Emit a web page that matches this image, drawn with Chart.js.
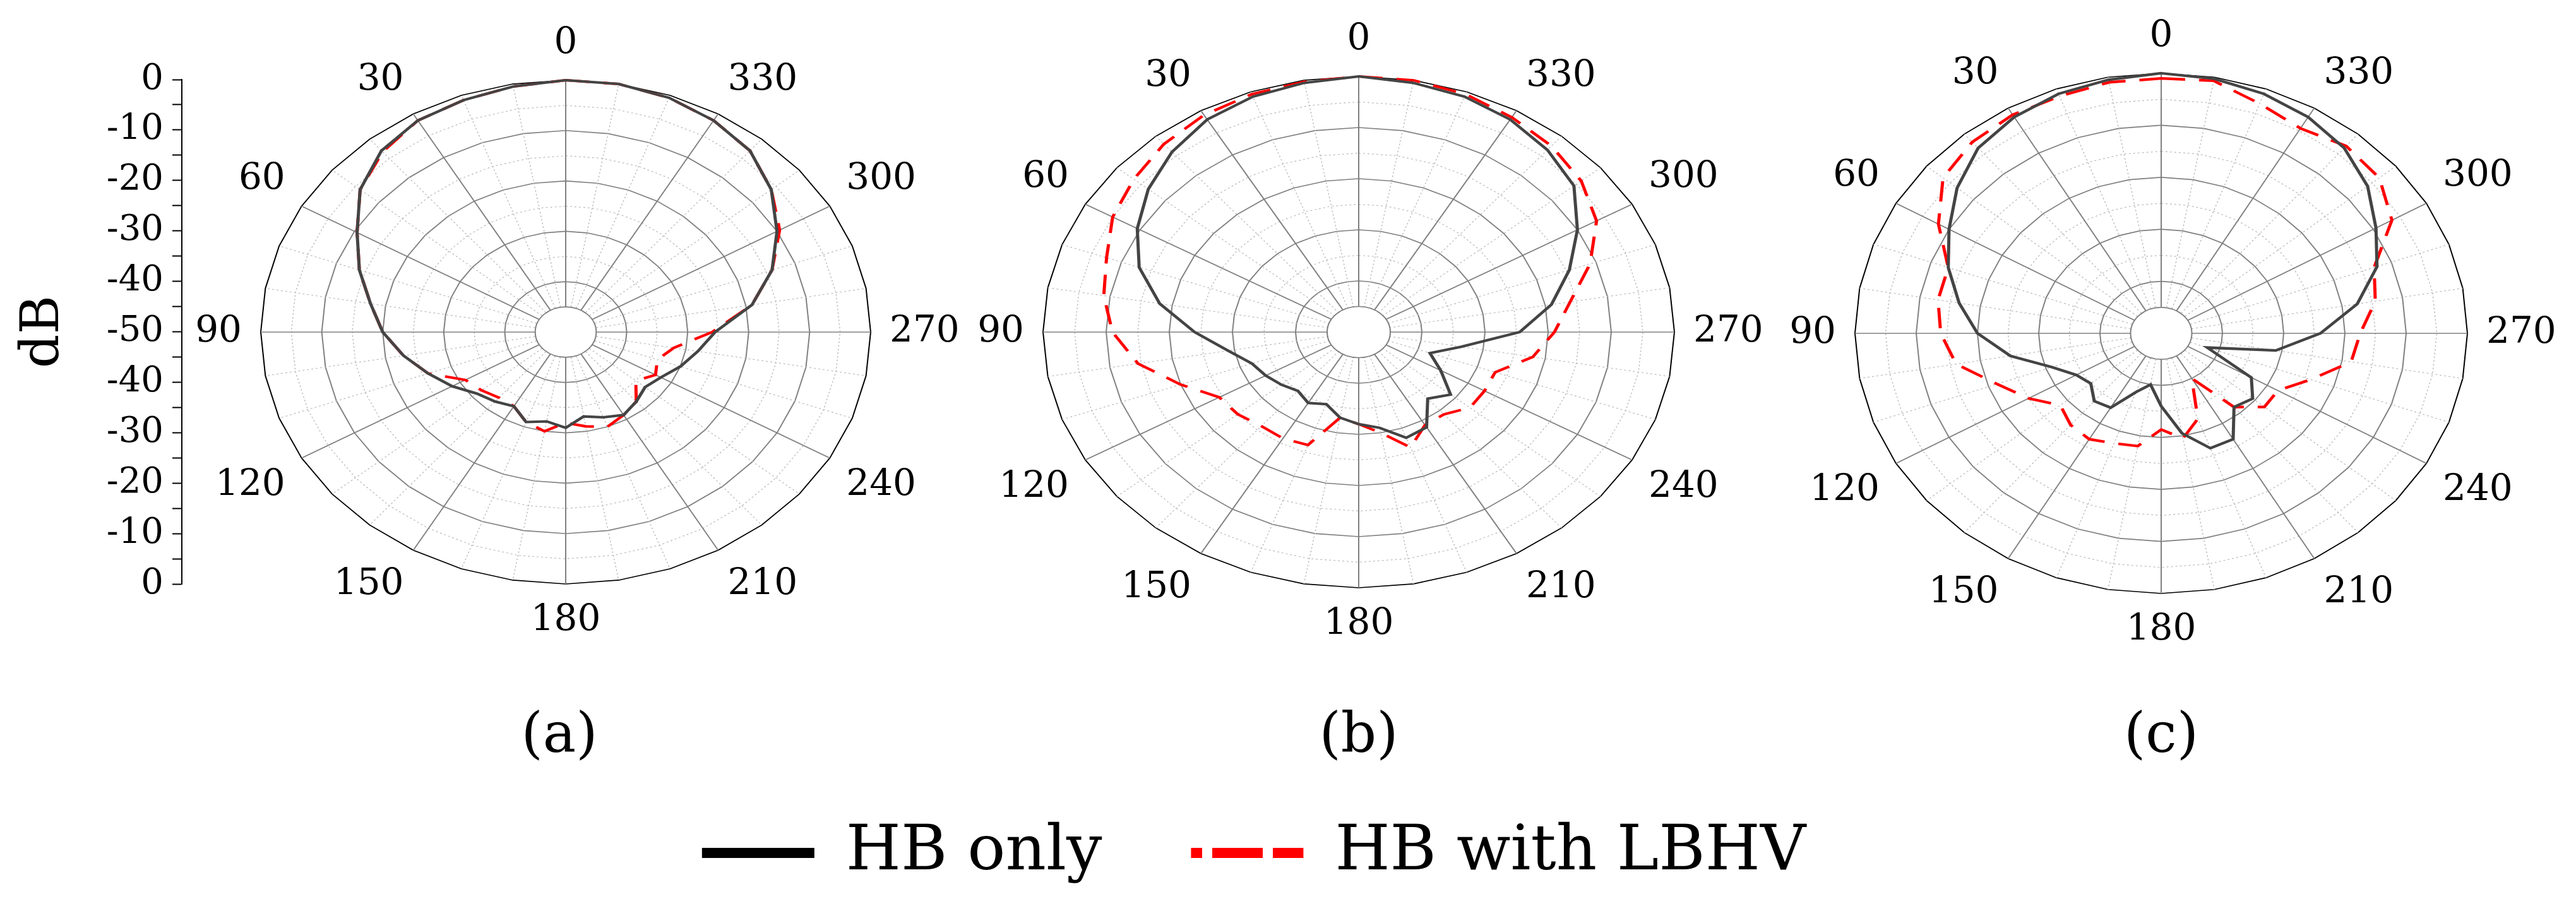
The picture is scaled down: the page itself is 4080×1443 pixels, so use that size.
<!DOCTYPE html>
<html><head><meta charset="utf-8">
<script src="https://cdn.jsdelivr.net/npm/chart.js@4"></script>
<style>
html,body{margin:0;padding:0;background:#fff;width:4080px;height:1443px;overflow:hidden;position:relative;font-family:"DejaVu Serif",serif;}
canvas{position:absolute;}
.cap{position:absolute;font-family:"DejaVu Serif",serif;font-size:88px;color:#000;transform:translate(-50%,-50%);white-space:nowrap;}
</style></head><body>
<canvas id="axis"></canvas>
<canvas id="pa"></canvas><canvas id="pb"></canvas><canvas id="pc"></canvas>
<canvas id="leg"></canvas>
<div class="cap" style="left:886px;top:1160px">(a)</div>
<div class="cap" style="left:2152px;top:1160px">(b)</div>
<div class="cap" style="left:3423px;top:1160px">(c)</div>
<script>
// angles 0..350 step 10 (counter-clockwise from top)
const ANGLES = Array.from({length:36},(_, i)=>i*10);
const ANGLE_TICK_LABELS = ['0','30','60','90','120','150','180','210','240','270','300','330'];
const DB_MIN = -50, DB_MAX = 0, DB_STEP = 5;
const AXIS_TICKS = [0,-10,-20,-30,-40,-50,-40,-30,-20,-10,0];
const SERIES_NAMES = ['HB only', 'HB with LBHV'];

const A_HB   = [0,-0.5,-1,-1.5,-3,-6,-10.5,-14,-17.5,-20,-23,-26,-28.5,-31,-32,-33,-31,-32,-31,-33,-32,-31,-32,-33,-32,-30,-28,-25.5,-19,-14,-10,-6,-3,-1.5,-0.5,0];
const A_LBHV = [0,-0.5,-1,-1.5,-3.3,-6,-10.5,-14,-17.5,-20,-23,-26,-31,-32,-33,-33,-31,-30,-32,-31,-30,-31,-32,-35,-33,-34,-32,-26,-19,-14,-9.5,-6,-3,-1.5,-0.5,0];
const B_HB   = [0,-0.5,-1,-2,-4,-6.5,-9.5,-13,-18,-24,-29,-32,-33,-34,-35,-34,-35,-33,-32,-31,-28,-28.5,-33,-31,-35,-38,-33.5,-24.5,-19,-14.5,-10,-5.5,-3.5,-2,-1,-0.5];
const B_LBHV = [0,-0.3,-0.5,-1,-2,-3.5,-5,-7.5,-9,-11,-14.5,-20,-24.5,-25,-26,-26,-26.5,-33,-32,-30,-26,-29,-29,-27,-27,-27,-22,-19,-16,-11,-6.5,-4,-2.5,-1.5,-0.5,0];
const C_HB   = [0,-0.5,-1,-2,-3.5,-6.5,-10,-13,-16.5,-20,-25,-31,-34,-35,-33,-33.5,-38,-40,-36,-30.5,-26.5,-26.5,-31.5,-30.5,-33,-42,-31,-24,-17.5,-12.5,-9.5,-6,-3.5,-2,-1,-0.3];
const C_LBHV = [-1,-1,-1.5,-1.5,-2,-3.5,-8,-13,-13,-14,-16,-21.5,-25,-28.5,-27,-26.5,-27.5,-28,-31.5,-29.5,-32.5,-40,-31.5,-28,-28,-24,-18.5,-17.5,-14.5,-13,-6.5,-3.5,-3,-4.5,-3,-0.7];

Chart.defaults.font.family = '"DejaVu Serif", serif';
Chart.defaults.color = '#000';
Chart.defaults.animation = false;

// clockwise order for Chart.js radar: index j -> angle (360-10j)%360
const order = ANGLES.map((_, j) => (36 - j) % 36);
const cwLabels = order.map(i => String(ANGLES[i]));
const cw = arr => order.map(i => arr[i]);

const ellipse = {
  id:'ellipse',
  beforeDraw(chart, args, o){
    const s = chart.scales.r, ctx = chart.ctx;
    ctx.save();
    ctx.translate(s.xCenter, s.yCenter); ctx.scale(1, o.k); ctx.translate(-s.xCenter, -s.yCenter);
  },
  beforeDatasetsDraw(chart){
    const s = chart.scales.r, ctx = chart.ctx;
    const r = s.getDistanceFromCenterForValue(-45);
    ctx.save();
    ctx.beginPath(); ctx.arc(s.xCenter, s.yCenter, r, 0, Math.PI*2);
    ctx.fillStyle = '#fff'; ctx.fill();
    ctx.strokeStyle = '#808080'; ctx.lineWidth = 2; ctx.stroke();
    ctx.restore();
  },
  afterDraw(chart, args, o){
    const s = chart.scales.r, ctx = chart.ctx;
    ctx.restore();
    ctx.save();
    ctx.font = '58px "DejaVu Serif"'; ctx.fillStyle = '#000';
    ctx.textAlign = 'center'; ctx.textBaseline = 'middle';
    const R = s.drawingArea;
    ANGLE_TICK_LABELS.forEach(t => {
      const j = cwLabels.indexOf(t);
      const p = s.getPointPositionForValue(j, DB_MAX);
      const dx = (p.x - s.xCenter) / R, dy = (p.y - s.yCenter) / R;
      const ex = p.x, ey = s.yCenter + (p.y - s.yCenter) * o.k;
      const w = ctx.measureText(t).width, h = 56, d = 30;
      const sx = Math.abs(dx) < 0.1 ? 0 : Math.sign(dx);
      const sy = Math.abs(dy) < 0.1 ? 0 : Math.sign(dy);
      ctx.fillText(t, ex + d*dx + sx*w/2, ey + d*dy + sy*h/2);
    });
    ctx.restore();
  }
};

function polar(id, cx, cy, R, k, hb, lb){
  const pad = 160, W = 2*R + 2*pad;
  const cv = document.getElementById(id);
  cv.width = W; cv.height = W;
  cv.style.left = (cx - W/2) + 'px'; cv.style.top = (cy - W/2) + 'px';
  new Chart(cv, {
    type:'radar',
    data:{labels: cwLabels, datasets:[
      {label:SERIES_NAMES[0], data: cw(hb), borderColor:'#444', borderWidth:5, pointRadius:0, fill:false, tension:0},
      {label:SERIES_NAMES[1], data: cw(lb), borderColor:'#ff0000', borderWidth:5, borderDash:[38,22], pointRadius:0, fill:false, tension:0}
    ]},
    options:{
      responsive:false, devicePixelRatio:1,
      layout:{padding:pad},
      plugins:{legend:{display:false}, tooltip:{enabled:false}, ellipse:{k}},
      scales:{r:{
        min:DB_MIN, max:DB_MAX, startAngle:0,
        ticks:{display:false, stepSize:DB_STEP},
        pointLabels:{display:false},
        grid:{
          color: c => c.tick && c.tick.value === DB_MAX ? '#000' : (c.tick && c.tick.value % 10 === 0 ? '#808080' : '#bdbdbd'),
          lineWidth: c => c.tick && c.tick.value % 10 === 0 ? 2 : 1.5
        },
        border:{ dash: c => c.tick && c.tick.value % 10 !== 0 && c.tick.value !== -45 ? [3,4] : [] },
        angleLines:{
          color: c => (c.index % 3 === 0) ? '#808080' : '#bdbdbd',
          lineWidth: c => (c.index % 3 === 0) ? 2 : 1.5,
          borderDash: c => (c.index % 3 === 0) ? [] : [3,4]
        }
      }}
    },
    plugins:[ellipse]
  });
}
polar('pa', 896, 526, 483, 399/483, A_HB, A_LBHV);
polar('pb', 2152, 526, 500, 405/500, B_HB, B_LBHV);
polar('pc', 3423, 528, 485, 412/485, C_HB, C_LBHV);

// left dB axis
(function(){
  const cv = document.getElementById('axis');
  cv.width = 300; cv.height = 1000;
  cv.style.left = '0px'; cv.style.top = '0px';
  new Chart(cv, {
    type:'line',
    data:{labels:[], datasets:[]},
    options:{
      responsive:false, devicePixelRatio:1,
      layout:{padding:{top:126, bottom:75, left:0, right:0}},
      plugins:{legend:{display:false}, tooltip:{enabled:false}},
      scales:{
        x:{display:false},
        y:{min:0, max:100,
          afterFit: s => { s.width = 288; },
          ticks:{stepSize:5, autoSkip:false, padding:14, font:{size:56}, color:'#000',
            callback: v => v % 10 === 0 ? String(AXIS_TICKS[v/10]) : ''},
          grid:{drawOnChartArea:false, tickLength:15, tickColor:'#000', tickWidth:2},
          border:{display:true, color:'#000', width:2},
          title:{display:true, text:'dB', font:{size:84}, color:'#000', padding:{top:20,bottom:0}}
        }
      }
    }
  });
})();

// legend
(function(){
  const cv = document.getElementById('leg');
  cv.width = 4080; cv.height = 800;
  cv.style.left = '0px'; cv.style.top = '1160px';
  // dashed pattern for the red legend swatch
  const pc = document.createElement('canvas');
  pc.width = 96; pc.height = 16;
  const pctx = pc.getContext('2d');
  pctx.fillStyle = '#ff0000'; pctx.fillRect(0, 0, 80, 16);
  const ctx0 = cv.getContext('2d');
  const dashPattern = ctx0.createPattern(pc, 'repeat');
  new Chart(cv, {
    type:'line',
    data:{labels:[], datasets:[
      {label:SERIES_NAMES[0], data:[], borderColor:'#000', backgroundColor:'#000'},
      {label:SERIES_NAMES[1], data:[], borderColor:'#ff0000', backgroundColor:'#ff0000'}
    ]},
    options:{
      responsive:false, devicePixelRatio:1,
      layout:{padding:{left:0, right:108, top:0, bottom:0}},
      scales:{x:{display:false}, y:{display:false}},
      plugins:{tooltip:{enabled:false},
        legend:{display:true, position:'top',
          labels:{boxWidth:178, boxHeight:16, font:{size:100}, color:'#000', padding:141,
            generateLabels: chart => chart.data.datasets.map((d, i) => ({
              text: d.label, datasetIndex: i, hidden: false,
              fillStyle: i === 0 ? '#000' : dashPattern,
              strokeStyle: 'rgba(0,0,0,0)', lineWidth: 0, fontColor: '#000'
            }))}}}
    }
  });
})();
</script>
</body></html>
